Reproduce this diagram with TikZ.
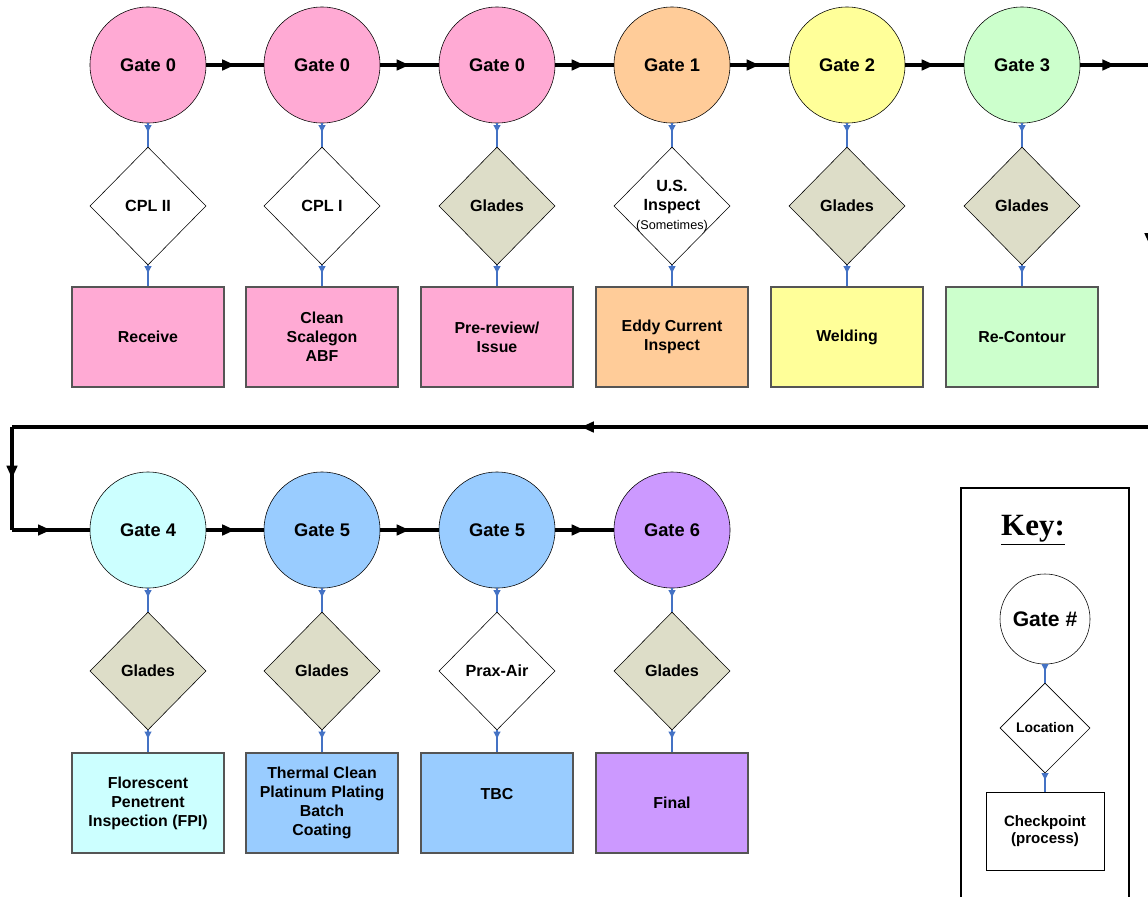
\documentclass[tikz,border=0pt]{standalone}
\usepackage{fontspec}
\setmainfont{Liberation Sans}
\newfontfamily\keyfont{Liberation Serif}
\usetikzlibrary{arrows.meta,positioning,shapes.geometric,decorations.markings}
\definecolor{gpink}{RGB}{255,170,212}
\definecolor{gorange}{RGB}{255,204,153}
\definecolor{gyellow}{RGB}{255,255,153}
\definecolor{ggreen}{RGB}{204,255,204}
\definecolor{gcyan}{RGB}{204,255,255}
\definecolor{gblue}{RGB}{153,204,255}
\definecolor{gpurple}{RGB}{204,153,255}
\definecolor{glades}{RGB}{221,221,200}
\definecolor{linkblue}{RGB}{68,114,196}
\definecolor{boxgray}{RGB}{85,85,85}

\tikzset{
  gate/.style={circle, draw, thin, minimum size=2.9cm, inner sep=0pt,
    font=\fontsize{13}{15}\selectfont\bfseries},
  loc/.style={diamond, draw, thin, minimum width=2.9cm, minimum height=2.95cm, inner sep=0pt},
  loctext/.style={align=center, font=\fontsize{11.5}{13.5}\selectfont\bfseries},
  proc/.style={rectangle, draw=boxgray, line width=0.9pt, minimum width=3.8cm, minimum height=2.5cm,
    align=center, font=\fontsize{11.3}{13.5}\selectfont\bfseries},
  flow/.style={line width=2.2pt, postaction={decorate}, decoration={markings,
    mark=at position 0.5 with {\arrow{Triangle[length=0.32cm, width=0.26cm]}}}},
  link/.style={linkblue, line width=0.8pt, postaction={decorate}, decoration={markings,
    mark=at position 0.42 with {\arrow{Latex[length=0.2cm, width=0.19cm]}}}}
}

\begin{document}
\begin{tikzpicture}[x=0.025cm, y=-0.025cm]
\useasboundingbox (0,0) rectangle (1148,896);
% Top row: gate, location, checkpoint
\foreach \x/\gate/\gcol/\loc/\lcol/\proc [count=\i] in {
  148/Gate 0/gpink/CPL II/white/Receive,
  322/Gate 0/gpink/CPL I/white/{Clean\\Scalegon\\ABF},
  497/Gate 0/gpink/Glades/glades/{Pre-review/\\Issue},
  672/Gate 1/gorange/{U.S.\\Inspect\\{\fontsize{9}{11}\selectfont\mdseries(Sometimes)}}/white/{Eddy Current\\Inspect},
  847/Gate 2/gyellow/Glades/glades/Welding,
  1022/Gate 3/ggreen/Glades/glades/Re-Contour} {
  \node[gate, fill=\gcol] (ga\i) at (\x,65) {\gate};
  \node[loc, fill=\lcol, label={[loctext]center:\loc}] (la\i) at (\x,206) {};
  \node[proc, fill=\gcol] (pa\i) at (\x,337) {\proc};
  \draw[link] (ga\i.south) -- (la\i.north);
  \draw[link] (la\i.south) -- (pa\i.north);
}
% Bottom row
\foreach \x/\gate/\gcol/\loc/\lcol/\proc [count=\i] in {
  148/Gate 4/gcyan/Glades/glades/{Florescent\\Penetrent\\Inspection (FPI)},
  322/Gate 5/gblue/Glades/glades/{Thermal Clean\\Platinum Plating\\Batch\\Coating},
  497/Gate 5/gblue/Prax-Air/white/{TBC\\\mbox{}},
  672/Gate 6/gpurple/Glades/glades/Final} {
  \node[gate, fill=\gcol] (gb\i) at (\x,530) {\gate};
  \node[loc, fill=\lcol, label={[loctext]center:\loc}] (lb\i) at (\x,671) {};
  \node[proc, fill=\gcol] (pb\i) at (\x,803) {\proc};
  \draw[link] (gb\i.south) -- (lb\i.north);
  \draw[link] (lb\i.south) -- (pb\i.north);
}
% Gate to gate flow
\foreach \i [count=\j from 2] in {1,...,5}
  \draw[flow] (ga\i.east) -- (ga\j.west);
\foreach \i [count=\j from 2] in {1,...,3}
  \draw[flow] (gb\i.east) -- (gb\j.west);
% Return path (runs off the right edge)
\coordinate (ne) at (1150,65);
\coordinate (se) at (1150,427);
\coordinate (sw) at (12,427);
\coordinate (nw) at (12,530);
\draw[flow] (ga6.east) -- (ne);
\draw[flow] (ne) -- (se);
\draw[flow] (se) -- (sw);
\draw[flow] (sw) -- (nw);
\draw[flow] (nw) -- (gb1.west);
% Key
\draw[line width=1.5pt] (961,488) rectangle (1129,910);
\node[font=\keyfont\fontsize{22}{26}\selectfont\bfseries] (keytitle) at (1033,530) {\underline{Key:}};
\node[gate, fill=white, minimum size=2.25cm, font=\fontsize{15}{18}\selectfont\bfseries] (kg) at (1045,619) {Gate \#};
\node[loc, fill=white, minimum width=2.25cm, minimum height=2.25cm,
  label={[loctext, font=\fontsize{9.9}{12}\selectfont\bfseries]center:Location}] (kl) at (1045,728) {};
\node[proc, fill=white, draw=black, line width=0.5pt, minimum width=2.95cm, minimum height=1.95cm,
  font=\fontsize{10.7}{12.5}\selectfont\bfseries] (kp) at (1045,831) {Checkpoint\\(process)};
\draw[link] (kg.south) -- (kl.north);
\draw[link] (kl.south) -- (kp.north);
\end{tikzpicture}
\end{document}
